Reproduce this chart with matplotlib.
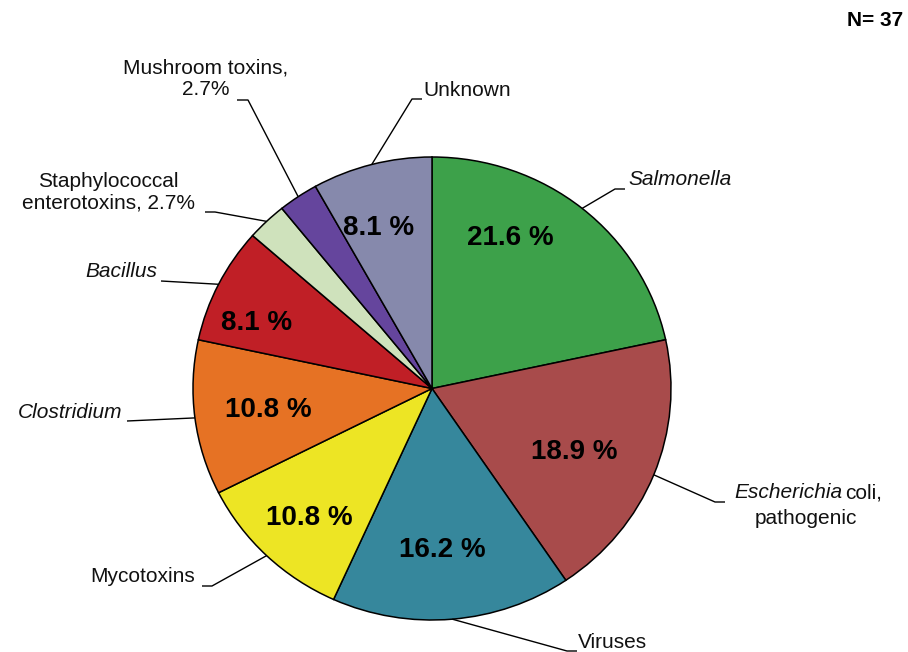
import numpy as np
import matplotlib
matplotlib.use("Agg")
import matplotlib.pyplot as plt

# ---- data ----
categories = ["Salmonella", "Escherichia coli, pathogenic", "Viruses", "Mycotoxins",
              "Clostridium", "Bacillus", "Staphylococcal enterotoxins", "Mushroom toxins", "Unknown"]
counts = [8, 7, 6, 4, 4, 3, 1, 1, 3]
colors = ["#3DA14A", "#A84B4B", "#36879C", "#EDE524", "#E67224",
          "#C01F26", "#CFE2BC", "#65459D", "#8689AC"]
total_n = sum(counts)

W, H = 908, 652
CX, CY, RX, RY = 432, 388.5, 239, 231.5

def px(x, y):
    return ((x - CX) / RX, (CY - y) / RY)

fig = plt.figure(figsize=(W / 100, H / 100), dpi=100)
ax = fig.add_axes([0, 0, 1, 1])
wedges, _ = ax.pie(counts, colors=colors, startangle=90, counterclock=False,
                   radius=1, center=(0, 0),
                   wedgeprops=dict(edgecolor="black", linewidth=1.1))
ax.set_aspect("auto")
ax.set_xlim(-CX / RX, (W - CX) / RX)
ax.set_ylim(-(H - CY) / RY, CY / RY)
ax.axis("off")

FONT = "Liberation Sans"
pcts = [100 * c / total_n for c in counts]

# percentage labels inside wedges (index: pixel position)
pct_pos = {0: (510, 238), 1: (574, 452), 2: (442, 550), 3: (309, 518),
           4: (268, 410), 5: (257, 323), 8: (379, 228)}
for i, p in pct_pos.items():
    ax.text(*px(*p), f"{pcts[i]:.1f} %", ha="center", va="center",
            fontsize=20, fontweight="bold", family=FONT, color="black")

# leader lines: (elbow, end) pixel positions
leaders = {
    0: [(615, 189), (625, 189)],
    1: [(715, 502), (725, 502)],
    2: [(567, 651), (577, 651)],
    3: [(212, 586), (202, 586)],
    4: [(127, 421)],
    5: [(161, 281)],
    6: [(215, 212), (205, 212)],
    7: [(248, 100), (237, 100)],
    8: [(412, 99), (422, 99)],
}
for i, pts in leaders.items():
    w = wedges[i]
    m = np.deg2rad((w.theta1 + w.theta2) / 2)
    xs = [np.cos(m)] + [px(*p)[0] for p in pts]
    ys = [np.sin(m)] + [px(*p)[1] for p in pts]
    ax.plot(xs, ys, color="black", lw=1.0, solid_capstyle="butt")

fs = 15
tc = "#111111"
def lab(x, y, s, ha="left", style="normal"):
    return ax.text(*px(x, y), s, ha=ha, va="center", fontsize=fs, family=FONT,
                   style=style, color=tc, linespacing=1.2)

lab(628, 180, "Salmonella", style="italic")
lab(842, 493, "Escherichia", ha="right", style="italic")
lab(845, 493, "coli,")
lab(806, 518, "pathogenic", ha="center")
lab(578, 642, "Viruses")
lab(195, 577, "Mycotoxins", ha="right")
lab(122, 413, "Clostridium", ha="right", style="italic")
lab(157, 272, "Bacillus", ha="right", style="italic")
lab(108, 192.5, "Staphylococcal\nenterotoxins, 2.7%", ha="center")
lab(206, 79, "Mushroom toxins,\n2.7%", ha="center")
lab(423, 90, "Unknown")

ax.text(*px(903, 21), f"N= {total_n}", ha="right", va="center", fontsize=15,
        fontweight="bold", family=FONT, color="black")

fig.savefig("out.png", dpi=100)
